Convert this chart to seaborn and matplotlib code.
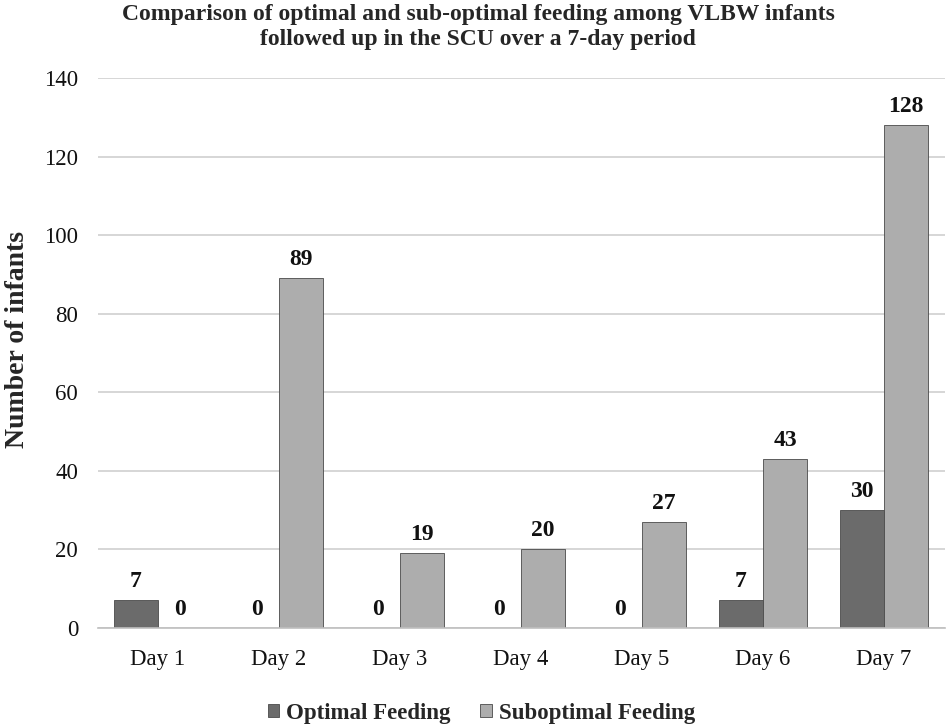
import numpy as np
import seaborn as sns
import matplotlib.pyplot as plt
import pandas as pd

days = ["Day 1", "Day 2", "Day 3", "Day 4", "Day 5", "Day 6", "Day 7"]
optimal = [7, 0, 0, 0, 0, 7, 30]
suboptimal = [0, 89, 19, 20, 27, 43, 128]
series_names = ["Optimal Feeding", "Suboptimal Feeding"]

sns.set_theme(style="white")
plt.rcParams['font.family'] = ['Liberation Serif', 'DejaVu Serif']

df = pd.DataFrame({
    "day": days * 2,
    "count": optimal + suboptimal,
    "series": [series_names[0]] * len(days) + [series_names[1]] * len(days),
})

fig = plt.figure(figsize=(9.47, 7.26), dpi=100)
ax = fig.add_axes([0.103, 0.135, 0.8944, 0.7576])

sns.barplot(data=df, x="day", y="count", hue="series",
            palette=["#6b6b6b", "#adadad"], width=0.727, gap=0,
            edgecolor="#4a4a4a", linewidth=0.6, ax=ax)

for c in ax.containers:
    ax.bar_label(c, padding=6, fontsize=17, fontweight="bold", color="#111111")

ax.set_ylim(0, 140)
ax.set_xlim(-0.5, len(days) - 0.5)
ax.set_yticks(np.arange(0, 141, 20))
ax.yaxis.grid(True, color="#cfcfcf", linewidth=1.2)
ax.set_axisbelow(True)
for s in ["left", "right", "top"]:
    ax.spines[s].set_visible(False)
ax.spines["bottom"].set_color("#bfbfbf")
ax.spines["bottom"].set_linewidth(1.2)
ax.tick_params(axis="both", length=0, labelsize=16.5, colors="#111111")
ax.tick_params(axis="x", pad=15)
ax.tick_params(axis="y", pad=14)
ax.set_xlabel("")
ax.set_ylabel("Number of infants", fontsize=20, fontweight="bold")
ax.yaxis.set_label_coords(-0.08, 0.524)

fig.suptitle("Comparison of optimal and sub-optimal feeding among VLBW infants\n"
             "followed up in the SCU over a 7-day period",
             fontsize=17, fontweight="bold", y=0.995, x=0.505, linespacing=1.3)

ax.legend(loc="center", bbox_to_anchor=(0.453, -0.155), ncol=2, frameon=False,
          prop={"size": 16.5, "weight": "bold"}, handlelength=0.5, handleheight=0.5,
          handletextpad=0.3, columnspacing=1.3)

fig.savefig("out.png", dpi=100)
